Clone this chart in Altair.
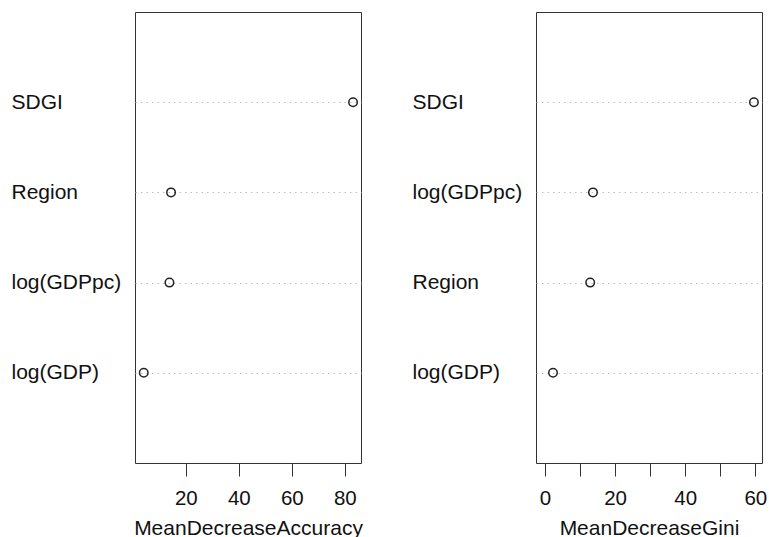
import altair as alt
import pandas as pd

# Variable importance (randomForest varImpPlot)
acc_vars = ["SDGI", "Region", "log(GDPpc)", "log(GDP)"]
acc_vals = [83.1, 14.4, 13.8, 4.1]

gini_vars = ["SDGI", "log(GDPpc)", "Region", "log(GDP)"]
gini_vals = [59.6, 13.7, 12.9, 2.3]

acc_ticks = [20, 40, 60, 80]
gini_ticks = [0, 10, 20, 30, 40, 50, 60]

FONT = "Liberation Sans"
TXT = "#111111"


def panel(names, vals, field, domain, ticks, label_expr=None):
    df = pd.DataFrame({"var": names, field: vals})
    xaxis_kw = dict(
        values=ticks, grid=False, domain=False, tickSize=13, tickColor="#333333",
        tickWidth=1, labelFontSize=20.5, labelPadding=12.5, labelFont=FONT,
        labelColor=TXT, labelFlush=False, title=field, titleFont=FONT,
        titleFontSize=21, titleFontWeight="normal", titleColor=TXT,
        titleBaseline="alphabetic", titleY=71,
    )
    if label_expr:
        xaxis_kw["labelExpr"] = label_expr
    yaxis = alt.Axis(
        title=None, ticks=False, tickSize=0, domain=False, labelAlign="left",
        labelBaseline="middle", labelPadding=124, labelFont=FONT, labelFontSize=21,
        labelColor=TXT, grid=True, gridColor="#bebebe", gridDash=[1.5, 4],
        gridWidth=1,
    )
    return (
        alt.Chart(df)
        .mark_point(shape="circle", filled=False, size=72, strokeWidth=1.5,
                    color="#222222", opacity=1)
        .encode(
            x=alt.X(f"{field}:Q", scale=alt.Scale(domain=domain, nice=False, zero=False),
                    axis=alt.Axis(**xaxis_kw)),
            y=alt.Y("var:N", sort=names, scale=alt.Scale(type="point", padding=1),
                    axis=yaxis),
        )
        .properties(width=226, height=451)
    )


left = panel(acc_vars, acc_vals, "MeanDecreaseAccuracy", [0.8, 86.1], acc_ticks)
right = panel(gini_vars, gini_vals, "MeanDecreaseGini", [-2.55, 61.9], gini_ticks,
              label_expr="datum.value % 20 == 0 ? datum.label : ''")

chart = (
    alt.hconcat(left, right, spacing=48)
    .configure_view(stroke="#333333", strokeWidth=1)
    .properties(padding={"left": 10, "top": 11, "right": 0, "bottom": 0},
                background="white")
)

chart.save("out.html", embed_options={"renderer": "svg", "actions": False})
